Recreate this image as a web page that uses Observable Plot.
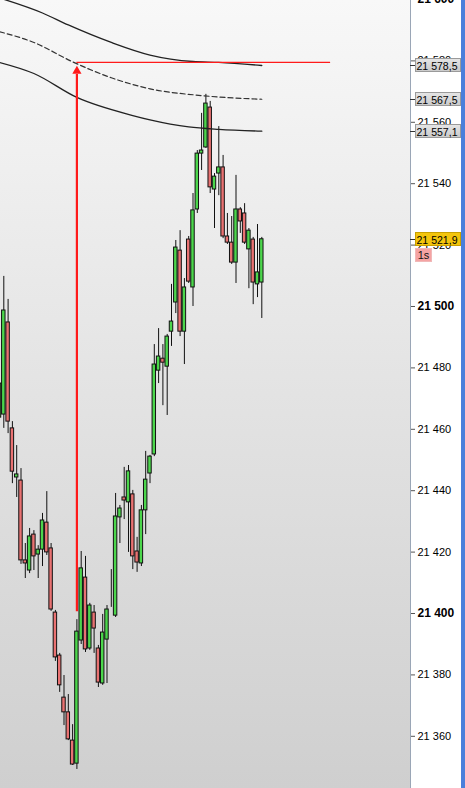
<!DOCTYPE html>
<html>
<head>
<meta charset="utf-8">
<script src="https://cdn.jsdelivr.net/npm/d3@7"></script>
<script src="https://cdn.jsdelivr.net/npm/@observablehq/plot@0.6"></script>
<style>
  html, body { margin: 0; padding: 0; background: #ffffff; overflow: hidden; }
  #chart svg { display: block; }
</style>
</head>
<body>
<div id="chart"></div>
<script>
// ---- candle data (index 0 = leftmost, partially visible) ----
const candleOpen = [21463.8, 21464.8, 21494.8, 21460.3, 21444.3, 21443.3, 21417.3, 21414.0, 21425.7, 21419.2, 21420.8, 21429.6, 21421.2, 21400.3, 21386.3, 21372.6, 21367.8, 21358.6, 21351.1, 21391.2, 21411.7, 21388.6, 21400.3, 21388.6, 21377.2, 21391.5, 21402.3, 21399.3, 21431.3, 21437.8, 21436.2, 21438.8, 21420.2, 21416.3, 21433.6, 21445.6, 21451.8, 21479.1, 21483.0, 21480.4, 21491.8, 21501.3, 21518.2, 21491.8, 21521.8, 21506.2, 21531.6, 21549.8, 21551.8, 21564.8, 21538.1, 21543.3, 21545.3, 21522.8, 21520.8, 21514.3, 21531.6, 21530.3, 21518.6, 21521.8, 21507.2, 21507.8];
const candleHigh = [21475.9, 21509.8, 21502.3, 21462.5, 21454.7, 21447.2, 21422.8, 21427.7, 21427.0, 21422.1, 21432.6, 21439.7, 21422.8, 21401.0, 21387.0, 21379.8, 21373.6, 21363.8, 21398.0, 21420.2, 21418.6, 21403.3, 21402.6, 21389.6, 21399.7, 21402.6, 21414.3, 21439.1, 21435.2, 21447.6, 21448.2, 21440.1, 21424.8, 21435.2, 21452.8, 21451.5, 21487.6, 21492.8, 21487.6, 21490.9, 21507.2, 21521.5, 21524.7, 21509.1, 21522.8, 21536.8, 21550.8, 21562.9, 21569.1, 21566.8, 21543.3, 21558.6, 21549.2, 21530.3, 21529.3, 21542.7, 21532.2, 21533.5, 21525.4, 21522.5, 21526.7, 21522.5];
const candleLow = [21461.9, 21460.3, 21458.6, 21442.3, 21437.8, 21416.0, 21411.4, 21413.0, 21414.0, 21411.4, 21415.3, 21418.9, 21400.7, 21384.4, 21374.3, 21363.5, 21358.6, 21350.5, 21349.2, 21389.9, 21387.3, 21388.0, 21387.0, 21375.9, 21376.6, 21377.2, 21402.0, 21398.7, 21422.8, 21430.6, 21419.9, 21414.3, 21413.4, 21415.3, 21425.7, 21442.3, 21451.1, 21474.9, 21467.7, 21464.5, 21487.0, 21497.7, 21490.2, 21481.1, 21507.5, 21500.0, 21530.3, 21544.3, 21551.5, 21536.8, 21525.4, 21536.1, 21522.1, 21520.2, 21513.7, 21507.5, 21523.8, 21520.2, 21505.8, 21500.6, 21502.9, 21496.1];
const candleClose = [21474.9, 21498.7, 21462.5, 21446.2, 21445.3, 21417.3, 21416.3, 21425.1, 21418.6, 21420.8, 21430.3, 21419.9, 21401.3, 21385.7, 21376.6, 21367.8, 21359.0, 21350.8, 21394.1, 21414.7, 21388.3, 21402.6, 21395.1, 21377.5, 21393.8, 21401.3, 21402.3, 21431.6, 21434.2, 21436.8, 21446.3, 21418.6, 21416.6, 21433.6, 21443.6, 21451.1, 21481.1, 21483.7, 21481.7, 21490.2, 21495.1, 21519.2, 21491.8, 21506.2, 21508.1, 21531.3, 21549.8, 21550.8, 21566.1, 21538.8, 21542.3, 21545.3, 21522.8, 21520.8, 21514.3, 21531.6, 21527.7, 21520.8, 21524.7, 21507.8, 21511.1, 21521.9];

// ---- band indicator (read at selected candle indices) ----
const upperIdx = [0, 10, 16, 26, 35, 45, 51, 61];
const upperVal = [21600.5, 21595.6, 21591.7, 21586.0, 21581.9, 21579.8, 21579.5, 21578.5];
const middleIdx = [0, 8, 17, 26, 35, 47, 61];
const middleVal = [21589.5, 21586.0, 21579.7, 21574.5, 21570.9, 21568.7, 21567.5];
const lowerIdx = [0, 8, 18, 31, 35, 44, 51, 61];
const lowerVal = [21579.5, 21575.9, 21568.1, 21562.2, 21560.8, 21558.5, 21557.7, 21557.1];

// ---- drawing tool: red arrow and level line ----
const arrowIdx = [18];
const arrowFrom = [21400.6];
const arrowTo = [21575.6];
const arrowHead = [21576.7];
const levelLineVal = [21579.5];
const levelLineEndIdx = [77];

// ---- axis / labels ----
const tickValues = [21360, 21380, 21400, 21420, 21440, 21460, 21480, 21500, 21520, 21540, 21560, 21580, 21600];
const boldTicks = [21400, 21500, 21600];
const bandLabels = [21578.5, 21567.5, 21557.1];
const lastPrice = [21521.9];
const timerLabel = ["1s"];

const candles = candleOpen.map((o, i) => ({
  i, open: o, high: candleHigh[i], low: candleLow[i], close: candleClose[i]
}));
const band = (idx, val) => idx.map((i, k) => ({i, v: val[k]}));

const fmtTick = d => `${Math.floor(d / 1000)} ${String(d % 1000).padStart(3, "0")}`;
const fmtPrice = v => {
  const s = v.toFixed(1).replace(".", ",");
  return s.slice(0, 2) + " " + s.slice(2);
};

const W = 465, H = 788, MR = 55;
const pxPerCandle = 4.3;

function background(index, scales, values, dims) {
  const g = d3.create("svg:g");
  const defs = g.append("defs");
  const lg = defs.append("linearGradient").attr("id", "bgGrad")
    .attr("x1", 0).attr("y1", 0).attr("x2", 0).attr("y2", 1);
  lg.append("stop").attr("offset", "0%").attr("stop-color", "#f8f8f8");
  lg.append("stop").attr("offset", "50%").attr("stop-color", "#e3e3e3");
  lg.append("stop").attr("offset", "100%").attr("stop-color", "#cfcfcf");
  g.append("rect").attr("x", 0).attr("y", 0)
    .attr("width", dims.width - dims.marginRight).attr("height", dims.height)
    .attr("fill", "url(#bgGrad)");
  g.append("rect").attr("x", dims.width - 4).attr("y", 0)
    .attr("width", 4).attr("height", dims.height).attr("fill", "#4a7fdb");
  return g.node();
}

function priceBoxes(index, scales, values, dims) {
  const y = scales.y;
  const x0 = dims.width - dims.marginRight;
  const g = d3.create("svg:g")
    .attr("font-family", "'Liberation Sans', Arial, sans-serif")
    .attr("font-size", 11)
    .attr("text-anchor", "start");
  const defs = g.append("defs");
  const gg = defs.append("linearGradient").attr("id", "boxGrad")
    .attr("x1", 0).attr("y1", 0).attr("x2", 0).attr("y2", 1);
  gg.append("stop").attr("offset", "0%").attr("stop-color", "#e6e6e6");
  gg.append("stop").attr("offset", "100%").attr("stop-color", "#c9c9c9");
  const box = (v, fill, stroke) => {
    const cy = Math.round(y(v));
    g.append("line").attr("x1", x0).attr("x2", x0 + 5)
      .attr("y1", cy + 0.5).attr("y2", cy + 0.5).attr("stroke", "#333");
    g.append("rect").attr("x", x0 + 5.5).attr("y", cy - 6.5)
      .attr("width", 45).attr("height", 13)
      .attr("fill", fill).attr("stroke", stroke);
    g.append("text").attr("x", x0 + 6.5).attr("y", cy + 1).attr("dy", "0.35em")
      .attr("text-anchor", "start")
      .attr("textLength", 41).attr("lengthAdjust", "spacingAndGlyphs")
      .attr("fill", "#000").text(fmtPrice(v));
    return cy;
  };
  bandLabels.forEach(v => box(v, "url(#boxGrad)", "#9a9a9a"));
  lastPrice.forEach(v => {
    const cy = box(v, "#f3c50d", "#c9a000");
    timerLabel.forEach(t => {
      g.append("rect").attr("x", x0 + 5.5).attr("y", cy + 9.5)
        .attr("width", 16).attr("height", 13).attr("fill", "#f5a3a3").attr("stroke", "#f0b8b8");
      g.append("text").attr("x", x0 + 13.5).attr("y", cy + 16.5).attr("dy", "0.35em")
        .attr("text-anchor", "middle").attr("fill", "#111").text(t);
    });
  });
  return g.node();
}

const chart = Plot.plot({
  width: W,
  height: H,
  marginLeft: 0,
  marginRight: MR,
  marginTop: 0,
  marginBottom: 0,
  style: {
    background: "#ffffff",
    fontFamily: "'Liberation Sans', Arial, sans-serif",
    fontSize: "11px",
    overflow: "hidden"
  },
  x: { domain: [1 / pxPerCandle, (W - MR + 1) / pxPerCandle], axis: null },
  y: { domain: [21343.0, 21599.67], axis: null },
  marks: [
    background,
    Plot.ruleX(candles, { x: "i", y1: "low", y2: "high", stroke: "#111", strokeWidth: 1 }),
    Plot.rect(candles, {
      x1: d => d.i - 0.4,
      x2: d => d.i + 0.4,
      y1: "open",
      y2: "close",
      fill: d => d.close >= d.open ? "#4cd64c" : "#e97272",
      stroke: "#111",
      strokeWidth: 1
    }),
    Plot.line(band(upperIdx, upperVal), { x: "i", y: "v", curve: "monotone-x", stroke: "#222", strokeWidth: 1.3 }),
    Plot.line(band(middleIdx, middleVal), { x: "i", y: "v", curve: "monotone-x", stroke: "#333", strokeWidth: 1.2, strokeDasharray: "5,3" }),
    Plot.line(band(lowerIdx, lowerVal), { x: "i", y: "v", curve: "monotone-x", stroke: "#222", strokeWidth: 1.3 }),
    Plot.ruleY(levelLineVal, { y: d => d, x1: arrowIdx[0], x2: levelLineEndIdx[0], stroke: "#ff1a1a", strokeWidth: 1.3 }),
    Plot.ruleX(arrowIdx, { x: d => d, y1: arrowFrom[0], y2: arrowTo[0], stroke: "#ff1a1a", strokeWidth: 2.2 }),
    Plot.dot(arrowIdx, { x: d => d, y: arrowHead[0], symbol: "triangle", r: 3.4, fill: "#ff1a1a", stroke: "none" }),
    Plot.frame({ anchor: "right", stroke: "#9aa6b6" }),
    Plot.axisY(tickValues.filter(t => !boldTicks.includes(t)), {
      anchor: "right", tickSize: 4, tickPadding: 3, tickFormat: fmtTick,
      stroke: "#555", fill: "#000", fontSize: 11
    }),
    Plot.axisY(boldTicks, {
      anchor: "right", tickSize: 4, tickPadding: 3, tickFormat: fmtTick,
      stroke: "#555", fill: "#000", fontSize: 12, fontWeight: "bold"
    }),
    priceBoxes
  ]
});
document.getElementById("chart").appendChild(chart);
</script>
</body>
</html>
